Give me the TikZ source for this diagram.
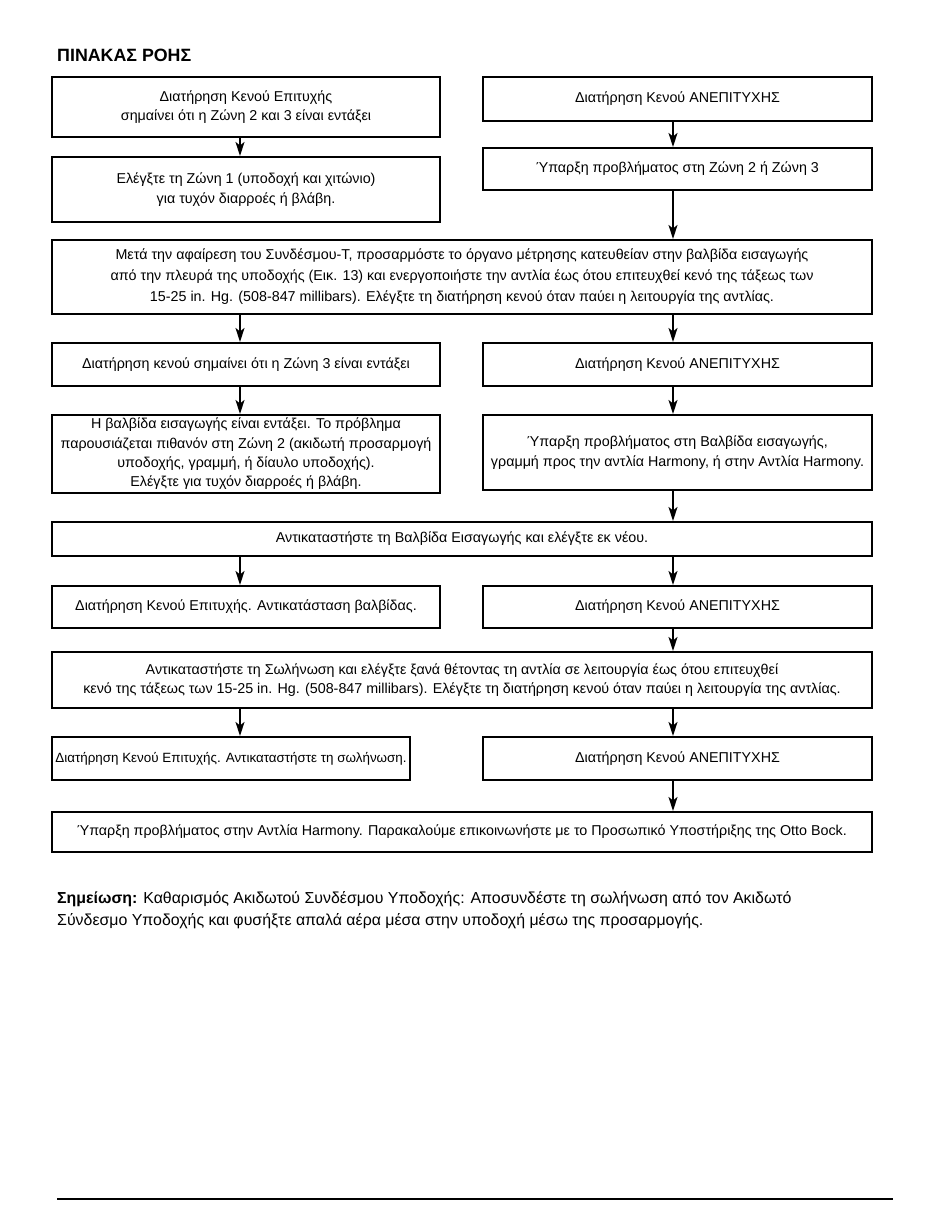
\documentclass[tikz,border=0pt]{standalone}
\usepackage{fontspec}
\setmainfont{Liberation Sans}
\usetikzlibrary{arrows.meta}
\begin{document}
\begin{tikzpicture}[x=1pt,y=-1pt,
  box/.style={draw=black, line width=2.1pt, rectangle, align=center, inner sep=0pt,
    font=\fontsize{14.3}{19.3}\selectfont},
  arr/.style={line width=1.5pt, -{Stealth[length=14pt,width=9pt,inset=3.5pt]}},
]
\useasboundingbox (0,0) rectangle (950,1232);
\coordinate (colL) at (240,0);
\coordinate (colR) at (673,0);

\node[anchor=base west, inner sep=0pt, font=\fontsize{17.8}{20}\selectfont\bfseries] (title) at (57,61) {ΠΙΝΑΚΑΣ ΡΟΗΣ};

% row 1
\node[box, minimum width=388pt, minimum height=60pt] (a) at (246,107)
  {Διατήρηση Κενού Επιτυχής\\σημαίνει ότι η Ζώνη 2 και 3 είναι εντάξει};
\node[box, minimum width=389pt, minimum height=44pt] (b) at (677.5,99)
  {Διατήρηση Κενού ΑΝΕΠΙΤΥΧΗΣ};
\node[box, minimum width=388pt, minimum height=65pt] (c) at (246,189.5)
  {\rule{0pt}{6pt}Ελέγξτε τη Ζώνη 1 (υποδοχή και χιτώνιο)\\για τυχόν διαρροές ή βλάβη.};
\node[box, minimum width=389pt, minimum height=42pt] (d) at (677.5,169)
  {Ύπαρξη προβλήματος στη Ζώνη 2 ή Ζώνη 3};

% long box E
\node[box, minimum width=820pt, minimum height=74pt, font=\fontsize{14.3}{21}\selectfont] (e) at (462,277)
  {Μετά την αφαίρεση του Συνδέσμου-Τ, προσαρμόστε το όργανο μέτρησης κατευθείαν στην βαλβίδα εισαγωγής\\
   από την πλευρά της υποδοχής (Εικ. 13) και ενεργοποιήστε την αντλία έως ότου επιτευχθεί κενό της τάξεως των\\
   15-25 in. Hg. (508-847 millibars). Ελέγξτε τη διατήρηση κενού όταν παύει η λειτουργία της αντλίας.};

\node[box, minimum width=388pt, minimum height=43pt] (f) at (246,364.5)
  {Διατήρηση κενού σημαίνει ότι η Ζώνη 3 είναι εντάξει};
\node[box, minimum width=389pt, minimum height=43pt] (g) at (677.5,364.5)
  {Διατήρηση Κενού ΑΝΕΠΙΤΥΧΗΣ};

\node[box, minimum width=388pt, minimum height=78pt] (h) at (246,454)
  {Η βαλβίδα εισαγωγής είναι εντάξει. Το πρόβλημα\\
   παρουσιάζεται πιθανόν στη Ζώνη 2 (ακιδωτή προσαρμογή\\
   υποδοχής, γραμμή, ή δίαυλο υποδοχής).\\
   Ελέγξτε για τυχόν διαρροές ή βλάβη.};
\node[box, minimum width=389pt, minimum height=75pt] (i) at (677.5,452.5)
  {Ύπαρξη προβλήματος στη Βαλβίδα εισαγωγής,\\
   γραμμή προς την αντλία Harmony, ή στην Αντλία Harmony.};

\node[box, minimum width=820pt, minimum height=34pt] (j) at (462,539)
  {Αντικαταστήστε τη Βαλβίδα Εισαγωγής και ελέγξτε εκ νέου.};

\node[box, minimum width=388pt, minimum height=42pt] (k) at (246,607)
  {Διατήρηση Κενού Επιτυχής. Αντικατάσταση βαλβίδας.};
\node[box, minimum width=389pt, minimum height=42pt] (l) at (677.5,607)
  {Διατήρηση Κενού ΑΝΕΠΙΤΥΧΗΣ};

\node[box, minimum width=820pt, minimum height=56pt] (m) at (462,680)
  {Αντικαταστήστε τη Σωλήνωση και ελέγξτε ξανά θέτοντας τη αντλία σε λειτουργία έως ότου επιτευχθεί\\
   κενό της τάξεως των 15-25 in. Hg. (508-847 millibars). Ελέγξτε τη διατήρηση κενού όταν παύει η λειτουργία της αντλίας.};

\node[box, minimum width=358pt, minimum height=43pt, font=\fontsize{13.4}{19}\selectfont] (n) at (231,758.5)
  {Διατήρηση Κενού Επιτυχής. Αντικαταστήστε τη σωλήνωση.};
\node[box, minimum width=389pt, minimum height=43pt] (o) at (677.5,758.5)
  {Διατήρηση Κενού ΑΝΕΠΙΤΥΧΗΣ};

\node[box, minimum width=820pt, minimum height=40pt] (p) at (462,832)
  {Ύπαρξη προβλήματος στην Αντλία Harmony. Παρακαλούμε επικοινωνήστε με το Προσωπικό Υποστήριξης της Otto Bock.};

% note
\node[anchor=base west, align=left, inner sep=0pt, font=\fontsize{15.9}{22}\selectfont] (note) at (57,925)
  {\textbf{Σημείωση:} Καθαρισμός Ακιδωτού Συνδέσμου Υποδοχής: Αποσυνδέστε τη σωλήνωση από τον Ακιδωτό\\
   Σύνδεσμο Υποδοχής και φυσήξτε απαλά αέρα μέσα στην υποδοχή μέσω της προσαρμογής.};

% footer line
\coordinate (fl) at (57,1199);
\coordinate (fr) at (893,1199);
\draw[line width=1.3pt] (fl) -- (fr);

% arrows
\draw[arr] (a.south -| colL) -- (c.north -| colL);
\draw[arr] (b.south -| colR) -- (d.north -| colR);
\draw[arr] (d.south -| colR) -- (e.north -| colR);
\draw[arr] (e.south -| colL) -- (f.north -| colL);
\draw[arr] (e.south -| colR) -- (g.north -| colR);
\draw[arr] (f.south -| colL) -- (h.north -| colL);
\draw[arr] (g.south -| colR) -- (i.north -| colR);
\draw[arr] (i.south -| colR) -- (j.north -| colR);
\draw[arr] (j.south -| colL) -- (k.north -| colL);
\draw[arr] (j.south -| colR) -- (l.north -| colR);
\draw[arr] (l.south -| colR) -- (m.north -| colR);
\draw[arr] (m.south -| colL) -- (n.north -| colL);
\draw[arr] (m.south -| colR) -- (o.north -| colR);
\draw[arr] (o.south -| colR) -- (p.north -| colR);
\end{tikzpicture}
\end{document}
